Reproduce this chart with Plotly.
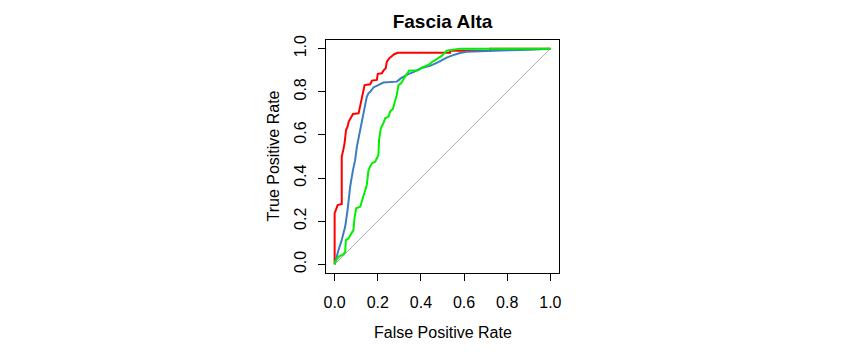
import plotly.graph_objects as go

# ROC curves (False Positive Rate, True Positive Rate)
red_fpr = [0, 0, 0.005, 0.01, 0.014, 0.033, 0.033, 0.040, 0.046, 0.053, 0.060, 0.065, 0.073, 0.085,
           0.111, 0.116, 0.122, 0.127, 0.134, 0.139, 0.165, 0.173, 0.196, 0.200, 0.219, 0.226,
           0.237, 0.242, 0.253, 0.265, 0.276, 0.293, 0.535, 0.535, 0.72, 0.72, 1.0]
red_tpr = [0, 0.237, 0.25, 0.26, 0.275, 0.28, 0.50, 0.53, 0.561, 0.623, 0.638, 0.661, 0.677, 0.697,
           0.70, 0.724, 0.754, 0.777, 0.80, 0.831, 0.835, 0.852, 0.855, 0.883, 0.886, 0.898,
           0.909, 0.94, 0.955, 0.963, 0.974, 0.981, 0.981, 0.99, 0.99, 1.0, 1.0]

blue_fpr = [0, 0.003, 0.010, 0.018, 0.033, 0.049, 0.060, 0.072, 0.085, 0.095, 0.103, 0.119, 0.134,
            0.149, 0.157, 0.165, 0.18, 0.199, 0.226, 0.288, 0.308, 0.339, 0.370, 0.40, 0.442,
            0.481, 0.519, 0.55, 0.581, 0.612, 0.712, 0.804, 0.904, 1.0]
blue_tpr = [0, 0.012, 0.035, 0.067, 0.113, 0.175, 0.252, 0.36, 0.437, 0.483, 0.545, 0.623, 0.70,
            0.777, 0.793, 0.80, 0.82, 0.831, 0.843, 0.847, 0.863, 0.881, 0.893, 0.909, 0.920,
            0.937, 0.958, 0.970, 0.98, 0.985, 0.99, 0.992, 0.995, 1.0]

green_fpr = [0, 0.003, 0.018, 0.041, 0.049, 0.052, 0.064, 0.072, 0.087, 0.092, 0.100, 0.119, 0.131,
             0.142, 0.149, 0.157, 0.172, 0.188, 0.203, 0.206, 0.214, 0.226, 0.234, 0.25, 0.257,
             0.27, 0.28, 0.288, 0.296, 0.308, 0.319, 0.327, 0.339, 0.345, 0.388, 0.404, 0.434,
             0.45, 0.473, 0.496, 0.511, 0.519, 0.535, 0.581, 1.0]
green_tpr = [0, 0.012, 0.035, 0.047, 0.058, 0.113, 0.12, 0.136, 0.159, 0.213, 0.26, 0.268, 0.306,
             0.337, 0.368, 0.437, 0.468, 0.476, 0.507, 0.577, 0.631, 0.654, 0.677, 0.685, 0.708,
             0.72, 0.754, 0.785, 0.831, 0.839, 0.858, 0.87, 0.886, 0.898, 0.90, 0.912, 0.924,
             0.937, 0.951, 0.966, 0.981, 0.99, 0.993, 1.0, 1.0]

diag = [0, 1]
tick_vals = [0, 0.2, 0.4, 0.6, 0.8, 1.0]
tick_text = ["0.0", "0.2", "0.4", "0.6", "0.8", "1.0"]

FONT = "Arial, 'Liberation Sans', sans-serif"

fig = go.Figure()
fig.add_trace(go.Scatter(x=diag, y=diag, mode="lines",
                         line=dict(color="#b0b0b0", width=1), hoverinfo="skip"))
fig.add_trace(go.Scatter(x=red_fpr, y=red_tpr, mode="lines",
                         line=dict(color="#ff0000", width=2)))
fig.add_trace(go.Scatter(x=blue_fpr, y=blue_tpr, mode="lines",
                         line=dict(color="#3b7ebf", width=2)))
fig.add_trace(go.Scatter(x=green_fpr, y=green_tpr, mode="lines",
                         line=dict(color="#00f000", width=2)))

axis_common = dict(
    range=[-0.04, 1.04], tickvals=tick_vals, ticktext=tick_text,
    ticks="outside", ticklen=7, tickwidth=1, tickcolor="black",
    showline=True, linecolor="black", linewidth=1, mirror=True,
    showgrid=False, zeroline=False,
    tickfont=dict(family=FONT, size=16, color="black"),
)

fig.update_layout(
    width=847, height=352,
    margin=dict(l=326, r=288, t=40, b=79),
    paper_bgcolor="white", plot_bgcolor="white",
    showlegend=False,
    title=dict(text="<b>Fascia Alta</b>", x=0.5, xref="paper", xanchor="center",
               y=1 - 21.7 / 352, yref="container", yanchor="middle",
               font=dict(family=FONT, size=19, color="black")),
    xaxis=dict(**axis_common, ticklabelstandoff=8),
    yaxis=dict(**axis_common, tickangle=-90, ticklabelstandoff=6),
    annotations=[
        dict(text="False Positive Rate", xref="paper", yref="paper", x=0.5, y=0,
             xanchor="center", yanchor="middle", yshift=-59, showarrow=False,
             font=dict(family=FONT, size=16, color="black")),
        dict(text="True Positive Rate", xref="paper", yref="paper", x=0, y=0.5,
             xanchor="center", yanchor="middle", xshift=-53, textangle=-90, showarrow=False,
             font=dict(family=FONT, size=16, color="black")),
    ],
)

fig.write_html("out.html")
